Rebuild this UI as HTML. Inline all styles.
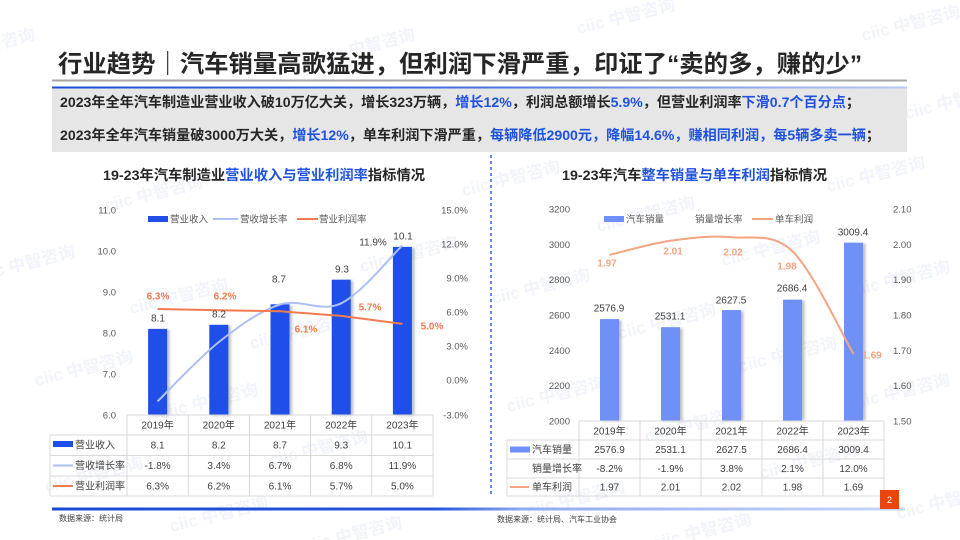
<!DOCTYPE html>
<html><head><meta charset="utf-8"><style>
html,body{margin:0;padding:0;background:#fff;width:960px;height:540px;overflow:hidden}
svg{display:block}
</style></head><body>
<svg width="960" height="540" viewBox="0 0 960 540" xmlns="http://www.w3.org/2000/svg" font-family="'Liberation Sans','Noto Sans CJK SC',sans-serif">
<defs>
<linearGradient id="gblue" x1="0" x2="1" y1="0" y2="0"><stop offset="0" stop-color="#1d4ed6"/><stop offset="0.5" stop-color="#4a72e0"/><stop offset="1" stop-color="#b9c9f0"/></linearGradient>
<linearGradient id="gbot" x1="0" x2="1" y1="0" y2="0"><stop offset="0" stop-color="#1a4bd4"/><stop offset="0.45" stop-color="#2455dc"/><stop offset="0.55" stop-color="#8eaaf0"/><stop offset="1" stop-color="#c9d6f6"/></linearGradient>
<filter id="sh" x="-50%" y="-10%" width="200%" height="120%"><feGaussianBlur stdDeviation="1.2"/></filter>
</defs>
<rect width="960" height="540" fill="#fff"/>

<!-- watermarks -->
<g fill="#e8edf8" font-size="17" font-weight="bold" opacity="0.6">
<g transform="translate(630,15) rotate(-14)"><text x="-55" y="6">ciic 中智咨询</text></g>
<g transform="translate(915,22) rotate(-14)"><text x="-55" y="6">ciic 中智咨询</text></g>
<g transform="translate(-10,45) rotate(-14)"><text x="-55" y="6">ciic 中智咨询</text></g>
<g transform="translate(370,45) rotate(-14)"><text x="-55" y="6">ciic 中智咨询</text></g>
<g transform="translate(958,100) rotate(-14)"><text x="-55" y="6">ciic 中智咨询</text></g>
<g transform="translate(158,192) rotate(-14)"><text x="-55" y="6">ciic 中智咨询</text></g>
<g transform="translate(413,253) rotate(-14)"><text x="-55" y="6">ciic 中智咨询</text></g>
<g transform="translate(183,295) rotate(-14)"><text x="-55" y="6">ciic 中智咨询</text></g>
<g transform="translate(303,330) rotate(-14)"><text x="-55" y="6">ciic 中智咨询</text></g>
<g transform="translate(30,262) rotate(-14)"><text x="-55" y="6">ciic 中智咨询</text></g>
<g transform="translate(88,367) rotate(-14)"><text x="-55" y="6">ciic 中智咨询</text></g>
<g transform="translate(213,400) rotate(-14)"><text x="-55" y="6">ciic 中智咨询</text></g>
<g transform="translate(323,447) rotate(-14)"><text x="-55" y="6">ciic 中智咨询</text></g>
<g transform="translate(98,473) rotate(-14)"><text x="-55" y="6">ciic 中智咨询</text></g>
<g transform="translate(223,513) rotate(-14)"><text x="-55" y="6">ciic 中智咨询</text></g>
<g transform="translate(357,533) rotate(-14)"><text x="-55" y="6">ciic 中智咨询</text></g>
<g transform="translate(515,177) rotate(-14)"><text x="-55" y="6">ciic 中智咨询</text></g>
<g transform="translate(880,173) rotate(-14)"><text x="-55" y="6">ciic 中智咨询</text></g>
<g transform="translate(650,213) rotate(-14)"><text x="-55" y="6">ciic 中智咨询</text></g>
<g transform="translate(775,247) rotate(-14)"><text x="-55" y="6">ciic 中智咨询</text></g>
<g transform="translate(545,285) rotate(-14)"><text x="-55" y="6">ciic 中智咨询</text></g>
<g transform="translate(905,277) rotate(-14)"><text x="-55" y="6">ciic 中智咨询</text></g>
<g transform="translate(671,320) rotate(-14)"><text x="-55" y="6">ciic 中智咨询</text></g>
<g transform="translate(792,353) rotate(-14)"><text x="-55" y="6">ciic 中智咨询</text></g>
<g transform="translate(560,393) rotate(-14)"><text x="-55" y="6">ciic 中智咨询</text></g>
<g transform="translate(905,390) rotate(-14)"><text x="-55" y="6">ciic 中智咨询</text></g>
<g transform="translate(698,423) rotate(-14)"><text x="-55" y="6">ciic 中智咨询</text></g>
<g transform="translate(813,460) rotate(-14)"><text x="-55" y="6">ciic 中智咨询</text></g>
<g transform="translate(580,497) rotate(-14)"><text x="-55" y="6">ciic 中智咨询</text></g>
<g transform="translate(706,530) rotate(-14)"><text x="-55" y="6">ciic 中智咨询</text></g>
<g transform="translate(950,500) rotate(-14)"><text x="-55" y="6">ciic 中智咨询</text></g>
</g>

<!-- title -->
<text x="58" y="72" font-size="24" font-weight="bold" fill="#262626" textLength="804" lengthAdjust="spacingAndGlyphs">行业趋势｜汽车销量高歌猛进，但利润下滑严重，印证了“卖的多，赚的少”</text>
<rect x="52" y="79.5" width="855" height="2" fill="#a6a6a6"/>
<rect x="52" y="88" width="855" height="64" fill="#e6e6e6"/>
<rect x="52" y="86.5" width="855" height="2" fill="url(#gblue)"/>

<text x="60" y="107" font-size="14" font-weight="bold" fill="#262626" textLength="800" lengthAdjust="spacingAndGlyphs">2023年全年汽车制造业营业收入破10万亿大关，增长323万辆，<tspan fill="#1f52e0">增长12%</tspan>，利润总额增长<tspan fill="#1f52e0">5.9%</tspan>，但营业利润率<tspan fill="#1f52e0">下滑0.7个百分点</tspan>；</text>
<text x="60" y="140" font-size="14" font-weight="bold" fill="#262626" textLength="820" lengthAdjust="spacingAndGlyphs">2023年全年汽车销量破3000万大关，<tspan fill="#1f52e0">增长12%</tspan>，单车利润下滑严重，<tspan fill="#1f52e0">每辆降低2900元，降幅14.6%，赚相同利润，每5辆多卖一辆</tspan>；</text>

<!-- divider -->
<line x1="491" y1="155" x2="491" y2="497" stroke="#3a62d8" stroke-width="1.5" stroke-dasharray="3,3"/>

<!-- ============ LEFT CHART ============ -->
<text x="103" y="180" font-size="14" font-weight="bold" fill="#262626" textLength="322" lengthAdjust="spacingAndGlyphs">19-23年汽车制造业<tspan fill="#1f52e0">营业收入与营业利润率</tspan>指标情况</text>

<g font-size="9.5" fill="#595959">
<rect x="148" y="216" width="20" height="6" fill="#1f4fe8"/>
<text x="170" y="222.5">营业收入</text>
<line x1="213" y1="219" x2="238" y2="219" stroke="#adc0f5" stroke-width="2"/>
<text x="240" y="222.5">营收增长率</text>
<line x1="297" y1="219" x2="318" y2="219" stroke="#f27b50" stroke-width="2"/>
<text x="319" y="222.5">营业利润率</text>
</g>

<g font-size="9.5" fill="#595959" text-anchor="end">
<text x="116" y="213.5">11.0</text>
<text x="116" y="254.5">10.0</text>
<text x="116" y="295.5">9.0</text>
<text x="116" y="336.5">8.0</text>
<text x="116" y="377.5">7.0</text>
<text x="116" y="418.5">6.0</text>
<text x="468" y="213.5">15.0%</text>
<text x="468" y="247.5">12.0%</text>
<text x="468" y="281.5">9.0%</text>
<text x="468" y="315.5">6.0%</text>
<text x="468" y="349.5">3.0%</text>
<text x="468" y="383.5">0.0%</text>
<text x="468" y="418.5">-3.0%</text>
</g>

<g>
<rect x="150.6" y="329.9" width="19" height="86" fill="#5a6070" opacity="0.4" filter="url(#sh)"/>
<rect x="211.8" y="325.8" width="19" height="90" fill="#5a6070" opacity="0.4" filter="url(#sh)"/>
<rect x="273" y="305.3" width="19" height="110" fill="#5a6070" opacity="0.4" filter="url(#sh)"/>
<rect x="334.2" y="280.7" width="19" height="135" fill="#5a6070" opacity="0.4" filter="url(#sh)"/>
<rect x="395.4" y="247.9" width="19" height="168" fill="#5a6070" opacity="0.4" filter="url(#sh)"/>
<rect x="148.1" y="328.9" width="19" height="86.1" fill="#1f4fe8"/>
<rect x="209.3" y="324.8" width="19" height="90.2" fill="#1f4fe8"/>
<rect x="270.5" y="304.3" width="19" height="110.7" fill="#1f4fe8"/>
<rect x="331.7" y="279.7" width="19" height="135.3" fill="#1f4fe8"/>
<rect x="392.9" y="246.9" width="19" height="168.1" fill="#1f4fe8"/>
</g>

<path d="M157.6,401.3 C167.8,391.4 198.4,358.2 218.8,342.1 C239.2,326 259.6,311 280,304.5 C300.4,298 320.8,313.2 341.2,303.3 C361.6,293.4 392.2,255 402.4,245.3" fill="none" stroke="#adc0f5" stroke-width="2"/>
<polyline points="157.6,309 218.8,310.2 280,311.3 341.2,315.9 402.4,323.9" fill="none" stroke="#f27b50" stroke-width="2"/>

<g font-size="10" fill="#404040" text-anchor="middle">
<text x="158" y="321.5">8.1</text>
<text x="219" y="317.5">8.2</text>
<text x="279" y="282.5">8.7</text>
<text x="342" y="272.5">9.3</text>
<text x="403" y="239.5">10.1</text>
<text x="373" y="245.5">11.9%</text>
</g>
<g font-size="10" fill="#f47b4f" font-weight="bold" text-anchor="middle">
<text x="158" y="299.5">6.3%</text>
<text x="225" y="299.5">6.2%</text>
<text x="306" y="332.5">6.1%</text>
<text x="370" y="310.5">5.7%</text>
<text x="432" y="329.5">5.0%</text>
</g>

<!-- left table -->
<g stroke="#d9d9d9" stroke-width="1" fill="none">
<line x1="127" y1="415" x2="433" y2="415"/>
<line x1="50" y1="435" x2="433" y2="435"/>
<line x1="50" y1="455.5" x2="433" y2="455.5"/>
<line x1="50" y1="476" x2="433" y2="476"/>
<line x1="50" y1="496" x2="433" y2="496"/>
<line x1="50" y1="435" x2="50" y2="496"/>
<line x1="127" y1="415" x2="127" y2="496"/>
<line x1="188.2" y1="415" x2="188.2" y2="496"/>
<line x1="249.4" y1="415" x2="249.4" y2="496"/>
<line x1="310.6" y1="415" x2="310.6" y2="496"/>
<line x1="371.8" y1="415" x2="371.8" y2="496"/>
<line x1="433" y1="415" x2="433" y2="496"/>
</g>
<rect x="53" y="441" width="20" height="6" fill="#1f4fe8"/>
<line x1="53" y1="465.5" x2="73" y2="465.5" stroke="#adc0f5" stroke-width="2"/>
<line x1="53" y1="486" x2="73" y2="486" stroke="#f27b50" stroke-width="2"/>
<g font-size="10" fill="#404040">
<text x="75" y="448.5">营业收入</text>
<text x="75" y="469">营收增长率</text>
<text x="75" y="489.5">营业利润率</text>
</g>
<g font-size="10" fill="#404040" text-anchor="middle">
<text x="157.6" y="428.5">2019年</text><text x="218.8" y="428.5">2020年</text><text x="280" y="428.5">2021年</text><text x="341.2" y="428.5">2022年</text><text x="402.4" y="428.5">2023年</text>
<text x="157.6" y="448.5">8.1</text><text x="218.8" y="448.5">8.2</text><text x="280" y="448.5">8.7</text><text x="341.2" y="448.5">9.3</text><text x="402.4" y="448.5">10.1</text>
<text x="157.6" y="469">-1.8%</text><text x="218.8" y="469">3.4%</text><text x="280" y="469">6.7%</text><text x="341.2" y="469">6.8%</text><text x="402.4" y="469">11.9%</text>
<text x="157.6" y="489.5">6.3%</text><text x="218.8" y="489.5">6.2%</text><text x="280" y="489.5">6.1%</text><text x="341.2" y="489.5">5.7%</text><text x="402.4" y="489.5">5.0%</text>
</g>

<!-- ============ RIGHT CHART ============ -->
<text x="562" y="180" font-size="14" font-weight="bold" fill="#262626" textLength="265" lengthAdjust="spacingAndGlyphs">19-23年汽车<tspan fill="#1f52e0">整车销量与单车利润</tspan>指标情况</text>

<g font-size="9.5" fill="#595959">
<rect x="604" y="216" width="20" height="6" fill="#6f91f7"/>
<text x="626" y="222.5">汽车销量</text>
<text x="695" y="222.5">销量增长率</text>
<line x1="752" y1="219" x2="773" y2="219" stroke="#f5a482" stroke-width="2"/>
<text x="775" y="222.5">单车利润</text>
</g>

<g font-size="9.5" fill="#595959">
<g text-anchor="end">
<text x="570" y="212.5">3200</text>
<text x="570" y="247.8">3000</text>
<text x="570" y="283.2">2800</text>
<text x="570" y="318.5">2600</text>
<text x="570" y="353.8">2400</text>
<text x="570" y="389.2">2200</text>
<text x="570" y="424.5">2000</text>
</g>
<text x="893" y="212.5">2.10</text>
<text x="893" y="247.8">2.00</text>
<text x="893" y="283.2">1.90</text>
<text x="893" y="318.5">1.80</text>
<text x="893" y="353.8">1.70</text>
<text x="893" y="389.2">1.60</text>
<text x="893" y="424.5">1.50</text>
</g>

<g>
<rect x="602.5" y="320.1" width="19" height="101" fill="#5a6070" opacity="0.4" filter="url(#sh)"/>
<rect x="663.5" y="328.2" width="19" height="93" fill="#5a6070" opacity="0.4" filter="url(#sh)"/>
<rect x="724.5" y="311.1" width="19" height="110" fill="#5a6070" opacity="0.4" filter="url(#sh)"/>
<rect x="785.5" y="300.7" width="19" height="120" fill="#5a6070" opacity="0.4" filter="url(#sh)"/>
<rect x="846.5" y="243.7" width="19" height="177" fill="#5a6070" opacity="0.4" filter="url(#sh)"/>
<rect x="600" y="319.1" width="19" height="101.9" fill="#6f91f7"/>
<rect x="661" y="327.2" width="19" height="93.8" fill="#6f91f7"/>
<rect x="722" y="310.1" width="19" height="110.9" fill="#6f91f7"/>
<rect x="783" y="299.7" width="19" height="121.3" fill="#6f91f7"/>
<rect x="844" y="242.7" width="19" height="178.3" fill="#6f91f7"/>
</g>

<path d="M609.5,254.9 C619.7,252.6 650.2,243.7 670.5,240.8 C690.8,237.9 711.2,235.5 731.5,237.3 C751.8,239.1 772.2,232 792.5,251.4 C812.8,270.8 843.3,336.8 853.5,353.9" fill="none" stroke="#f5a482" stroke-width="2"/>

<g font-size="10" fill="#404040" text-anchor="middle">
<text x="609" y="311.5">2576.9</text>
<text x="670" y="319.5">2531.1</text>
<text x="731" y="303.5">2627.5</text>
<text x="792" y="291.5">2686.4</text>
<text x="853" y="235.5">3009.4</text>
</g>
<g font-size="10" fill="#f5a482" font-weight="bold" text-anchor="middle">
<text x="607" y="266.5">1.97</text>
<text x="673" y="254.5">2.01</text>
<text x="733" y="255.5">2.02</text>
<text x="787" y="269.5">1.98</text>
<text x="872" y="358.5">1.69</text>
</g>

<!-- right table -->
<g stroke="#d9d9d9" stroke-width="1" fill="none">
<line x1="579" y1="421" x2="884" y2="421"/>
<line x1="507" y1="440" x2="884" y2="440"/>
<line x1="507" y1="459" x2="884" y2="459"/>
<line x1="507" y1="478" x2="884" y2="478"/>
<line x1="507" y1="496" x2="884" y2="496"/>
<line x1="507" y1="440" x2="507" y2="496"/>
<line x1="579" y1="421" x2="579" y2="496"/>
<line x1="640" y1="421" x2="640" y2="496"/>
<line x1="701" y1="421" x2="701" y2="496"/>
<line x1="762" y1="421" x2="762" y2="496"/>
<line x1="823" y1="421" x2="823" y2="496"/>
<line x1="884" y1="421" x2="884" y2="496"/>
</g>
<rect x="510" y="446.5" width="20" height="6" fill="#6f91f7"/>
<line x1="510" y1="487" x2="529" y2="487" stroke="#f5a482" stroke-width="2"/>
<g font-size="10" fill="#404040">
<text x="532" y="453">汽车销量</text>
<text x="532" y="472">销量增长率</text>
<text x="532" y="490.5">单车利润</text>
</g>
<g font-size="10" fill="#404040" text-anchor="middle">
<text x="609.5" y="434.5">2019年</text><text x="670.5" y="434.5">2020年</text><text x="731.5" y="434.5">2021年</text><text x="792.5" y="434.5">2022年</text><text x="853.5" y="434.5">2023年</text>
<text x="609.5" y="453">2576.9</text><text x="670.5" y="453">2531.1</text><text x="731.5" y="453">2627.5</text><text x="792.5" y="453">2686.4</text><text x="853.5" y="453">3009.4</text>
<text x="609.5" y="472">-8.2%</text><text x="670.5" y="472">-1.9%</text><text x="731.5" y="472">3.8%</text><text x="792.5" y="472">2.1%</text><text x="853.5" y="472">12.0%</text>
<text x="609.5" y="490.5">1.97</text><text x="670.5" y="490.5">2.01</text><text x="731.5" y="490.5">2.02</text><text x="792.5" y="490.5">1.98</text><text x="853.5" y="490.5">1.69</text>
</g>

<!-- footer -->
<rect x="52" y="507.5" width="853" height="3" fill="url(#gbot)"/>
<rect x="880" y="490" width="19" height="19" fill="#e9460f"/>
<text x="889.5" y="503" font-size="9" fill="#fff" text-anchor="middle">2</text>
<text x="59" y="521" font-size="8" fill="#404040">数据来源：统计局</text>
<text x="497" y="522" font-size="8" fill="#404040">数据来源：统计局、汽车工业协会</text>
</svg>
</body></html>
